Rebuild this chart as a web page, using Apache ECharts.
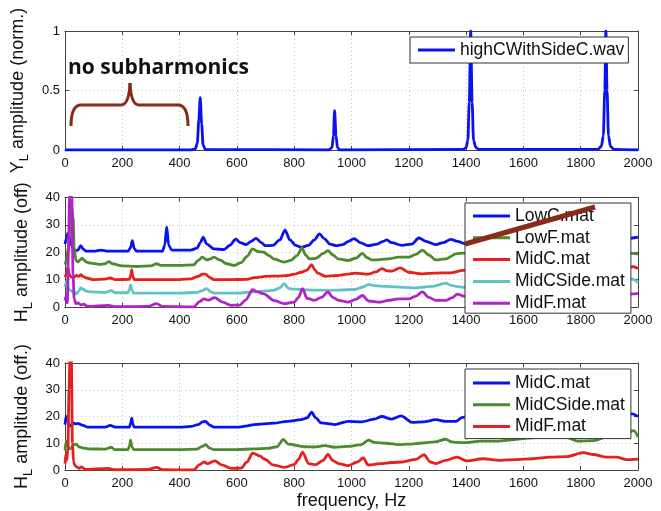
<!DOCTYPE html>
<html><head><meta charset="utf-8">
<script src="https://cdn.jsdelivr.net/npm/echarts@6/dist/echarts.min.js"></script>
<style>html,body{margin:0;padding:0;background:#fff}#c{width:661px;height:511px}</style>
</head><body><div id="c"></div><script>
// ---------- data (frequency Hz, amplitude) ----------
const highCWithSideC = [[0,0],[440,0],[455,0.01],[462,0.06],[467,0.25],[472,0.44],[477,0.22],[482,0.04],[490,0.005],[920,0],[932,0.02],[937,0.12],[941,0.33],[946,0.12],[951,0.02],[960,0],[1390,0.005],[1400,0.02],[1406,0.08],[1411,0.4],[1416,1],[1421,0.4],[1426,0.08],[1434,0.02],[1445,0.005],[1860,0.005],[1872,0.03],[1879,0.12],[1884,0.5],[1888,1],[1892,0.5],[1897,0.12],[1904,0.03],[1916,0.005],[2000,0]];

const lowC = [[0,23],[5,25],[10,27],[18,25],[25,22],[32,20.6],[45,20.8],[55,22.4],[65,21],[73,20.4],[100,20.4],[126,20.8],[150,20.4],[220,20.4],[228,21.5],[235,24.2],[242,21.3],[250,20.4],[340,20.4],[348,22.5],[355,29.3],[362,22.5],[373,20.8],[440,20.8],[461,21.5],[472,23.5],[482,25.5],[495,23],[520,21.2],[555,21],[575,22.5],[596,24.8],[612,23.5],[632,22.8],[650,24],[667,25.1],[685,23.5],[700,22.4],[725,22.5],[750,24.5],[768,28.1],[785,24.5],[805,22.5],[824,21.8],[850,22.5],[870,24.5],[888,26.7],[905,25],[925,23],[947,22.4],[970,22.8],[990,24],[1009,25],[1030,23.5],[1059,22.4],[1090,23],[1110,24],[1123,24.5],[1140,23.5],[1176,22.5],[1210,23],[1235,25.2],[1260,24],[1294,22.8],[1320,23.5],[1347,24.7],[1370,24],[1400,23],[1450,24.5],[1520,23],[1580,25],[1650,23],[1720,25],[1790,23.5],[1860,25],[1930,24],[1980,25.2],[2000,25.5]];
const lowF = [[0,15.5],[5,17],[12,22],[18,30],[24,36],[28,33],[32,22],[38,17],[45,16.5],[52,17.2],[60,17.8],[68,17],[75,16.4],[90,16],[120,15.6],[140,15.8],[153,16.6],[165,15.8],[200,15],[250,14.8],[300,15],[320,15.8],[335,15.2],[400,15.2],[449,15.4],[465,17],[479,18.2],[496,17.2],[508,17.6],[520,18.2],[540,17.2],[565,15.8],[590,15.2],[615,16.2],[635,18.5],[655,21.2],[675,20.2],[694,20],[712,18.8],[729,17.6],[765,16.4],[788,17],[810,18.8],[827,21.6],[840,19],[853,17.6],[876,17.8],[900,19.5],[918,20.6],[935,19],[953,17.6],[988,17],[1015,17.8],[1038,19.6],[1055,18],[1071,17.2],[1100,17.3],[1129,17.6],[1165,18.2],[1200,18.2],[1225,19.2],[1247,20.8],[1270,19],[1294,17.2],[1329,17.6],[1365,19.4],[1390,19.7],[1450,18.5],[1520,20],[1600,18.5],[1680,20],[1760,18.5],[1840,20],[1920,19],[1980,19.6],[2000,19.4]];
const midC = [[0,10.9],[5,12],[10,14.5],[15,12],[20,11],[30,10.8],[40,11.5],[50,11.2],[55,11.8],[62,11.2],[75,10.6],[100,10],[140,10.2],[158,10.6],[175,10],[225,10.1],[229,11.5],[233,13.6],[237,11],[242,10],[300,10],[400,10],[440,10.3],[465,11.2],[480,12],[490,12],[505,10.8],[520,10],[580,10],[637,10.1],[659,10.7],[700,11.2],[740,11.3],[776,11.5],[800,12],[824,12.7],[845,13.5],[861,15.5],[872,13.5],[882,12.4],[910,11.2],[950,11.5],[985,12],[1012,12.4],[1059,12],[1085,12.8],[1106,14],[1125,13.2],[1141,13.1],[1170,14.3],[1200,12.7],[1247,12.1],[1294,12.4],[1344,12.5],[1390,13.4],[1450,14],[1530,13.5],[1600,14.5],[1680,13.8],[1760,14.5],[1840,14],[1920,14.2],[1985,14.7],[2000,14]];
const midCSide = [[0,7.3],[4,9],[8,10],[12,6.5],[20,6],[30,5.5],[40,4.8],[48,5.8],[55,7],[62,6.5],[75,5.8],[90,5.5],[140,5.3],[161,6],[175,5.2],[220,5.2],[225,6.5],[229,8.1],[234,6],[240,5.1],[300,5.1],[400,5.1],[460,5.3],[480,6],[493,6.7],[510,5.5],[520,5.1],[600,5.1],[659,5.5],[729,6.1],[750,7],[765,8.5],[780,6.8],[800,6.5],[870,6.2],[920,6.1],[960,6.2],[1012,6.4],[1040,7.3],[1059,8.3],[1080,7.8],[1120,7.5],[1180,7.2],[1224,7],[1280,7.5],[1329,8.7],[1345,8],[1365,7.5],[1390,7.2],[1450,7.5],[1520,8.5],[1600,7.8],[1680,8.8],[1760,8],[1840,9],[1920,9.2],[1975,10.4],[1990,9.8],[2000,8.7]];
const midF = [[0,2.4],[4,4],[8,1.5],[12,20],[16,40],[20,45],[24,40],[28,12],[32,3],[38,1.2],[45,1.5],[55,0.8],[65,1],[80,0.2],[150,0.6],[180,0.1],[290,0.2],[320,1.2],[340,0.2],[449,0],[470,2],[485,3],[500,2.5],[522,3.4],[550,1.8],[579,0.6],[610,0.7],[630,2.5],[655,6.3],[672,5.5],[694,4.8],[729,2.4],[765,1.2],[800,1.8],[815,3.5],[829,6.7],[845,3.2],[870,2.4],[895,3.5],[918,5.5],[935,3.5],[955,2.4],[988,1.8],[1015,2.8],[1038,4.2],[1060,2.2],[1100,1.8],[1129,2.4],[1165,3],[1200,3],[1225,4],[1247,5.5],[1270,3.5],[1294,2.4],[1329,2.4],[1350,3.3],[1370,4.7],[1390,4],[1450,3],[1520,4.5],[1600,3.2],[1680,4.8],[1760,3.5],[1840,5],[1920,4.5],[1985,4.8],[2000,5]];

const midC3 = [[0,17],[4,20],[8,19.4],[14,17],[22,16.4],[30,17.6],[38,17.2],[45,17.4],[60,16.8],[80,16],[140,16],[158,16.7],[175,16],[225,16],[229,17.5],[233,19.4],[237,17],[242,16],[300,16],[400,16],[440,16.3],[465,17],[480,18],[490,18.2],[505,16.8],[520,16],[600,16],[637,16.5],[659,17],[729,17.5],[776,18.2],[824,18.8],[845,19.5],[861,21.6],[875,19.5],[894,17.6],[941,17],[988,18.2],[1035,18],[1080,19],[1106,20],[1140,19],[1173,20.2],[1212,17.8],[1250,18],[1294,18.8],[1330,18.2],[1365,18.2],[1385,19.6],[1440,21],[1520,19.5],[1600,20.5],[1680,19.5],[1760,21],[1840,20],[1920,20.5],[1980,21],[2000,20]];
const midCSide3 = [[0,7.3],[4,10.7],[8,9.7],[14,7.9],[22,8.2],[30,9.5],[38,9.7],[50,8.6],[65,8.2],[80,7.9],[140,7.8],[161,8.5],[175,7.6],[220,7.6],[225,9],[229,11.2],[234,8.5],[240,7.6],[300,7.6],[400,7.6],[460,7.8],[478,8.8],[491,9.5],[505,8.2],[520,7.6],[600,7.6],[659,7.9],[706,8.1],[740,8.7],[762,11.4],[779,9.7],[835,8.7],[870,8.6],[906,9.1],[940,8.5],[985,8.8],[1035,9.5],[1059,11.2],[1080,10.3],[1120,10],[1165,9.5],[1200,9.7],[1247,10.1],[1290,10.5],[1329,11.5],[1350,10.5],[1365,10.3],[1400,10.2],[1450,10.8],[1510,10.8],[1570,11.4],[1627,12],[1660,12.4],[1700,12.8],[1750,12.2],[1790,10.8],[1844,11],[1904,12.8],[1951,13.2],[1985,14.7],[2000,12.4]];
const midF3 = [[0,2.4],[3,6],[6,3.6],[10,8],[14,30],[18,45],[22,42],[26,10],[30,3],[34,1.8],[40,1.2],[50,0.6],[58,1.2],[70,0.2],[150,0.6],[175,0.1],[290,0.2],[320,1],[340,0.1],[449,0],[470,2],[485,3],[497,2.4],[522,3.4],[550,1.8],[579,0.6],[615,0.7],[635,3],[655,6.3],[680,5.3],[694,4.2],[729,1.8],[765,1],[800,2],[815,4],[829,6.7],[850,2.4],[875,2],[900,3.5],[918,5.8],[935,3.5],[955,2.4],[988,1.6],[1020,3],[1041,4.5],[1059,1.8],[1100,2.4],[1141,2.8],[1176,3],[1225,4],[1253,5.7],[1275,3],[1294,2.4],[1329,3.6],[1368,4.8],[1402,3.4],[1460,4.2],[1518,3.6],[1577,3.9],[1635,4.2],[1693,4.8],[1751,5],[1809,6.5],[1844,5.8],[1891,4.8],[1925,4.8],[1960,3.9],[2000,4.1]];

const legend1Names = ['highCWithSideC.wav'];
const legend2Names = ['LowC.mat','LowF.mat','MidC.mat','MidCSide.mat','MidF.mat'];
const legend3Names = ['MidC.mat','MidCSide.mat','MidF.mat'];

// ---------- styling ----------
const F = "'Liberation Sans', Arial, Helvetica, sans-serif";
const C = { blue:'#0a12f0', green:'#4b8b2b', red:'#e4211b', cyan:'#5fc3c3', purple:'#b123c9' };
const FRAME = '#444';
const grids = [
  {left:65, top:31, width:573, height:119},
  {left:65, top:197.5, width:573, height:109.5},
  {left:65, top:363, width:573, height:110}
];
function yName(main, rest){
  return '{a|' + main + '}{s|L}{a| ' + rest + '}';
}
const nameRich = {
  a:{fontSize:18, fontFamily:F, color:'#111', lineHeight:26, verticalAlign:'middle'},
  s:{fontSize:13, fontFamily:F, color:'#111', lineHeight:26, verticalAlign:'bottom'}
};
const xAxes = [], yAxes = [];
const yCfg = [
  {min:0,max:1,interval:0.5,name:yName('Y','amplitude (norm.)')},
  {min:0,max:40,interval:10,name:yName('H','amplitude (off)')},
  {min:0,max:40,interval:10,name:yName('H','amplitude (off.)')}
];
for (let g=0; g<3; g++){
  xAxes.push({gridIndex:g, type:'value', min:0, max:2000, interval:200, position:'bottom',
    axisLine:{show:true, onZero:false, lineStyle:{color:FRAME, width:1}},
    axisTick:{show:true, inside:true, length:4, lineStyle:{color:FRAME}},
    axisLabel:{show:true, margin:7, fontSize:13, fontFamily:F, color:'#111', formatter: v => String(v)},
    splitLine:{show:true, lineStyle:{color:'#c4c4c4', type:[1,3], width:1}},
    name: g===2 ? 'frequency, Hz' : '', nameLocation:'middle', nameGap:22,
    nameTextStyle:{fontSize:18, fontFamily:F, color:'#111'}
  });
  xAxes.push({gridIndex:g, type:'value', min:0, max:2000, interval:200, position:'top',
    axisLine:{show:true, onZero:false, lineStyle:{color:FRAME, width:1}},
    axisTick:{show:true, inside:true, length:4, lineStyle:{color:FRAME}},
    axisLabel:{show:false}, splitLine:{show:false}
  });
  const yc = yCfg[g];
  yAxes.push({gridIndex:g, type:'value', min:yc.min, max:yc.max, interval:yc.interval, position:'left',
    axisLine:{show:true, onZero:false, lineStyle:{color:FRAME, width:1}},
    axisTick:{show:true, inside:true, length:4, lineStyle:{color:FRAME}},
    axisLabel:{show:true, margin:5, fontSize:13, fontFamily:F, color:'#111', formatter: v => String(v)},
    splitLine:{show:true, lineStyle:{color:'#c4c4c4', type:[1,3], width:1}},
    name: yc.name, nameLocation:'middle', nameGap:26,
    nameTextStyle:{rich:nameRich}
  });
  yAxes.push({gridIndex:g, type:'value', min:yc.min, max:yc.max, interval:yc.interval, position:'right',
    axisLine:{show:true, onZero:false, lineStyle:{color:FRAME, width:1}},
    axisTick:{show:true, inside:true, length:4, lineStyle:{color:FRAME}},
    axisLabel:{show:false}, splitLine:{show:false}
  });
}
function line(name, data, color, g){
  return {type:'line', name, data, xAxisIndex:2*g, yAxisIndex:2*g, symbol:'none',
    smooth:0.3, smoothMonotone:'x',
    clip:true, lineStyle:{color, width:2.8, join:'round'}, itemStyle:{color}, z:2, silent:true, animation:false};
}
const series = [
  line(legend1Names[0], highCWithSideC, C.blue, 0),
  line(legend2Names[0], lowC, C.blue, 1),
  line(legend2Names[1], lowF, C.green, 1),
  line(legend2Names[2], midC, C.red, 1),
  line(legend2Names[3], midCSide, C.cyan, 1),
  line(legend2Names[4], midF, C.purple, 1),
  line(legend3Names[0] + ' ', midC3, C.blue, 2),
  line(legend3Names[1] + ' ', midCSide3, C.green, 2),
  line(legend3Names[2] + ' ', midF3, C.red, 2)
];
function legend(names, left, top, fs, pad, gap){
  return {show:true, orient:'vertical', left, top, data:names, padding:pad,
    itemWidth:37, itemHeight:3, itemGap:gap, icon:'rect',
    backgroundColor:'#fff', borderColor:'#333', borderWidth:1, selectedMode:false, z:5,
    formatter: n => n.trim(),
    textStyle:{fontSize:fs, fontFamily:F, color:'#111'}};
}
const brown = '#8a2a18';
const bs = {stroke:brown, lineWidth:3, fill:null};
const option = {
  animation:false,
  backgroundColor:'#fff',
  grid: grids,
  xAxis: xAxes, yAxis: yAxes,
  legend: [
    legend(legend1Names, 410, 37, 17.5, [4,4,4,8], 4),
    legend(legend2Names, 465, 203, 17.5, [4,6,1,8], 3.8),
    legend(legend3Names.map(n => n + ' '), 465, 369, 17.5, [5,6,3,8], 3.8)
  ],
  series,
  graphic: [
    {type:'text', x:68, y:68, z:100,
      style:{text:'no subharmonics', fontSize:21, fontWeight:'bold', fontFamily:"'Open Sans', sans-serif", fill:'#111', verticalAlign:'middle'}},
    {type:'bezierCurve', z:100, shape:{x1:71,y1:126,cpx1:71,cpy1:105,x2:81,y2:105}, style:bs},
    {type:'line', z:100, shape:{x1:81,y1:105,x2:121,y2:105}, style:bs},
    {type:'bezierCurve', z:100, shape:{x1:121,y1:105,cpx1:129,cpy1:105,x2:130,y2:83}, style:bs},
    {type:'bezierCurve', z:100, shape:{x1:130,y1:83,cpx1:131,cpy1:105,x2:139,y2:105}, style:bs},
    {type:'line', z:100, shape:{x1:139,y1:105,x2:178,y2:105}, style:bs},
    {type:'bezierCurve', z:100, shape:{x1:178,y1:105,cpx1:188,cpy1:105,x2:188,y2:126}, style:bs},
    {type:'line', z:100, shape:{x1:465, y1:244, x2:595, y2:207}, style:{stroke:brown, lineWidth:5}}
  ]
};
const chart = echarts.init(document.getElementById('c'), null, {renderer:'canvas'});
chart.setOption(option);
</script></body></html>
